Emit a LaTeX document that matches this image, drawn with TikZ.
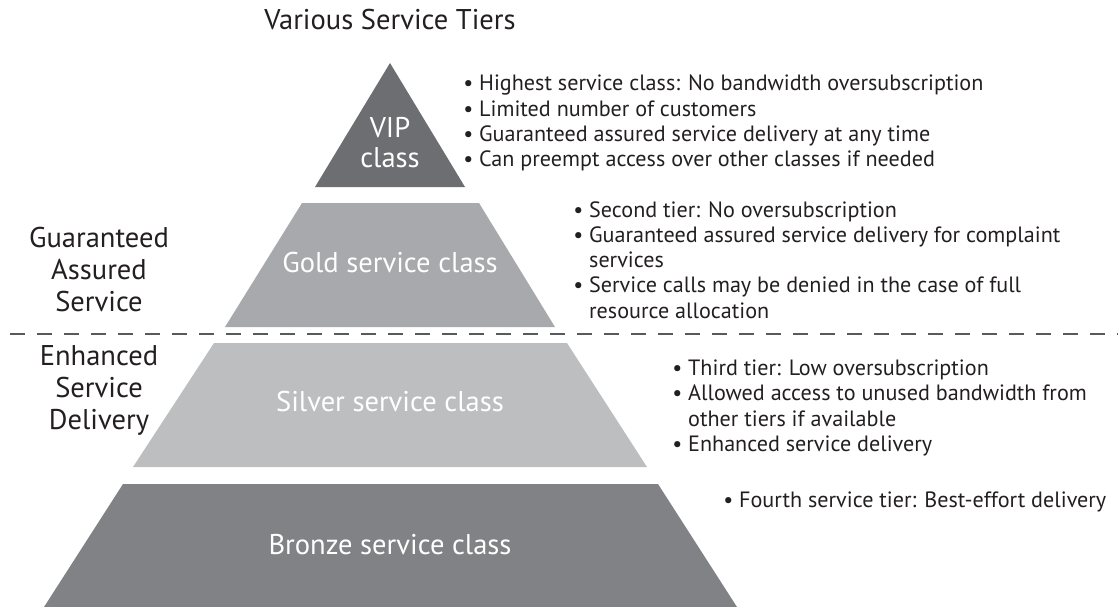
\documentclass[tikz,border=0pt]{standalone}
\usepackage{fontspec}
\setmainfont{PT Sans}
\usetikzlibrary{positioning}
\definecolor{vipColor}{HTML}{6D6E71}
\definecolor{goldColor}{HTML}{A7A9AC}
\definecolor{silverColor}{HTML}{BCBEC0}
\definecolor{bronzeColor}{HTML}{808285}
\definecolor{lineColor}{HTML}{58595B}
\definecolor{textColor}{HTML}{231F20}

\newcommand{\bul}{\textbullet\ }
\newcommand{\hang}{\phantom{\textbullet\ }}

\begin{document}
\begin{tikzpicture}[
    x=0.75pt, y=-0.75pt,
    every node/.style={text=textColor, inner sep=0pt},
    tierlabel/.style={
        text=white,
        font=\fontsize{21.4}{22.5}\selectfont,
        align=center,
    },
    sidelabel/.style={
        font=\fontsize{21.4}{24}\selectfont,
        align=center,
    },
    notes/.style={
        font=\fontsize{16.6}{18.9}\selectfont,
        align=left,
        anchor=west,
    },
    divider/.style={
        lineColor,
        line width=2pt,
        dash pattern=on 11.25pt off 9pt,
    },
]
\useasboundingbox (0,0) rectangle (1118,607);

% ===== Piramide =====
\fill[vipColor] (390,63) -- (465,187) -- (315,187) -- cycle;
\fill[goldColor] (302,203) -- (479,203) -- (555,327) -- (225,327) -- cycle;
\fill[silverColor] (214,343) -- (567,343) -- (647,467) -- (133,467) -- cycle;
\fill[bronzeColor] (123,484) -- (658,484) -- (737,607) -- (44,607) -- cycle;

% ===== Titulos =====
\node[sidelabel] (title) at (390,20) {Various Service Tiers};
\node[tierlabel] (vip) at (390,143) {VIP\\class};
\node[tierlabel] (gold) at (390,263) {Gold service class};
\node[tierlabel] (silver) at (390,402) {Silver service class};
\node[tierlabel] (bronze) at (390,545) {Bronze service class};

\node[sidelabel] (guaranteed) at (99,270) {Guaranteed\\Assured\\Service};
\node[sidelabel] (enhanced) at (99,390) {Enhanced\\Service\\Delivery};

% ===== Separador =====
\draw[divider] (10,334) -- (1118,334);

% ===== Notas por nivel =====
\node[notes] (vipnotes) at (463,123) {
    \bul Highest service class: No bandwidth oversubscription\\
    \bul Limited number of customers\\
    \bul Guaranteed assured service delivery at any time\\
    \bul Can preempt access over other classes if needed
};
\node[notes] (goldnotes) at (573,260) {
    \bul Second tier: No oversubscription\\
    \bul Guaranteed assured service delivery for complaint\\
    \hang services\\
    \bul Service calls may be denied in the case of full\\
    \hang resource allocation
};
\node[notes] (silvernotes) at (672,408) {
    \bul Third tier: Low oversubscription\\
    \bul Allowed access to unused bandwidth from\\
    \hang other tiers if available\\
    \bul Enhanced service delivery
};
\node[notes] (bronzenotes) at (723,502) {
    \bul Fourth service tier: Best-effort delivery
};

\end{tikzpicture}
\end{document}
